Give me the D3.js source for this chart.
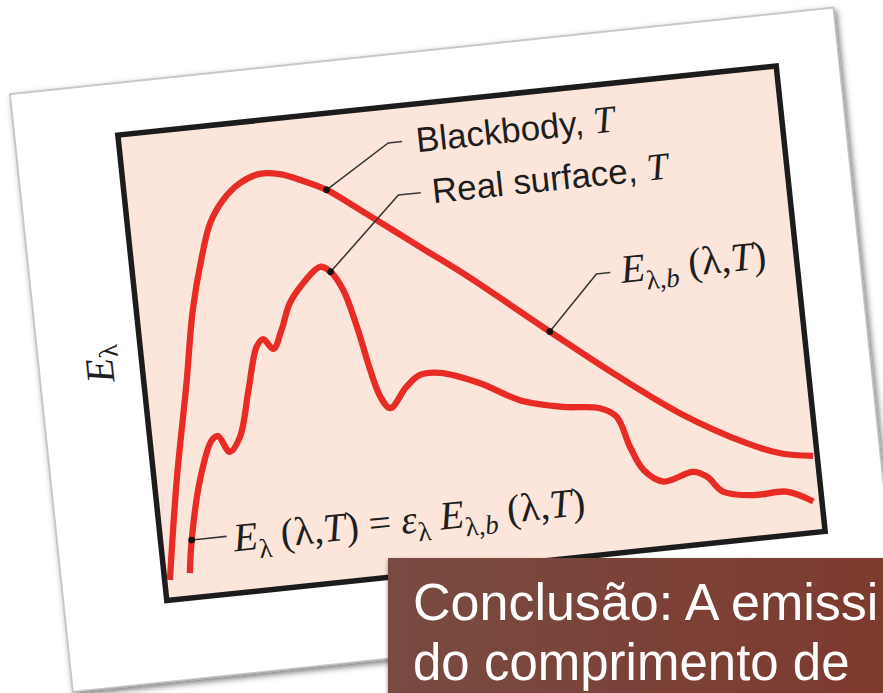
<!DOCTYPE html>
<html>
<head>
<meta charset="utf-8">
<script src="https://cdn.jsdelivr.net/npm/d3@7"></script>
<style>
  html, body { margin: 0; padding: 0; background: #ffffff; overflow: hidden; }
  svg { display: block; }
</style>
</head>
<body>
<svg id="chart" width="883" height="693"></svg>
<script>
// ---------------- data (normalised 0..100) ----------------
const blackbodyX = [0.8, 3.4, 6.4, 8.5, 10.7, 12.5, 14.8, 17.6, 20.7, 23.7, 26.7, 30.5, 35.2, 39.8, 43.6, 49.7, 61.8, 70.7, 80.1, 89.6, 94.5, 99.4];
const blackbodyY = [4.3, 25.4, 45.8, 61.2, 72.3, 79.3, 83.9, 87.1, 88.6, 88.1, 86.4, 83.7, 78.7, 73.7, 69.5, 62.9, 48.6, 38.3, 28.3, 20.5, 17.6, 16.3];

const realX = [3.9, 4.7, 6.9, 9.3, 10.3, 11.8, 13.6, 15.6, 17.5, 18.6, 20.0, 21.5, 23.2, 25.5, 28.3, 29.8, 31.4, 32.9, 34.2, 35.3, 36.6, 39.4, 41.6, 44.6, 50.5, 56.2, 62.6, 68.1, 70.5, 72.0, 73.7, 76.5, 81.1, 83.1, 85.3, 89.8, 94.8, 98.7];
const realY = [5.3, 12.3, 24.9, 33.1, 33.8, 30.2, 33.2, 42.9, 51.9, 53.4, 51.1, 54.9, 60.5, 64.4, 67.5, 66.2, 62.1, 53.9, 44.5, 38.6, 35.9, 40.1, 42.3, 42.3, 39.2, 34.7, 32.3, 31.2, 29.0, 22.4, 17.1, 14.2, 15.6, 14.3, 10.7, 9.3, 9.3, 6.6];

// annotation anchors (data units): marker on curve, leader corner, tick end, label position
const annoNames   = ["blackbody", "real", "ebody", "formula"];
const annoMarkerX = [30.5, 29.8, 61.8, 4.7];
const annoMarkerY = [83.7, 66.2, 48.6, 12.3];
const annoCornerX = [40.5, 41.2, 69.7, 4.7];
const annoCornerY = [92.3, 81.0, 59.8, 12.3];
const annoTickX   = [42.6, 44.6, 71.8, 10.0];
const annoLabelX  = [44.7, 46.3, 73.4, 11.0];
const annoLabelY  = [89.7, 78.5, 57.3, 8.9];

const yAxisLabel = "E";
const yAxisSub = "λ";
const banner1 = "Conclusão: A emissi";
const banner2 = "do comprimento de";

// ---------------- drawing ----------------
const svg = d3.select("#chart");
const defs = svg.append("defs");

const sh = defs.append("filter").attr("id", "cardShadow")
  .attr("x", "-10%").attr("y", "-10%").attr("width", "120%").attr("height", "120%");
sh.append("feDropShadow").attr("dx", 2).attr("dy", 3).attr("stdDeviation", 3)
  .attr("flood-color", "#000").attr("flood-opacity", 0.55);

const bsh = defs.append("filter").attr("id", "boxShadow")
  .attr("x", "-10%").attr("y", "-10%").attr("width", "120%").attr("height", "130%");
bsh.append("feDropShadow").attr("dx", 0).attr("dy", 2).attr("stdDeviation", 2)
  .attr("flood-color", "#000").attr("flood-opacity", 0.45);

const grad = defs.append("linearGradient").attr("id", "brown")
  .attr("x1", "0%").attr("x2", "100%").attr("y1", "0%").attr("y2", "0%");
grad.append("stop").attr("offset", "0%").attr("stop-color", "#784b42");
grad.append("stop").attr("offset", "100%").attr("stop-color", "#7d392d");

// rotated card
const card = svg.append("g").attr("transform", "translate(471.5,333.25) rotate(-6)");

card.append("rect")
  .attr("x", -434).attr("y", -286).attr("width", 828).attr("height", 601)
  .attr("fill", "#ffffff").attr("stroke", "#a9a9a9").attr("stroke-width", 1.2)
  .attr("filter", "url(#cardShadow)");

const W = 662, H = 468;
const x = d3.scaleLinear().domain([0, 100]).range([-W / 2, W / 2]);
const y = d3.scaleLinear().domain([0, 100]).range([H / 2, -H / 2]);

card.append("rect")
  .attr("x", x(0)).attr("y", y(100)).attr("width", x(100) - x(0)).attr("height", y(0) - y(100))
  .attr("fill", "#fce6db").attr("stroke", "#1c1c1c").attr("stroke-width", 5.5);

const line = d3.line().x(d => x(d[0])).y(d => y(d[1])).curve(d3.curveCatmullRom.alpha(0.5));

const red = "#e82b24";
card.append("path")
  .datum(d3.zip(blackbodyX, blackbodyY))
  .attr("d", line).attr("fill", "none").attr("stroke", red).attr("stroke-width", 6.3)
  .attr("stroke-linecap", "butt").attr("stroke-linejoin", "round");

card.append("path")
  .datum(d3.zip(realX, realY))
  .attr("d", line).attr("fill", "none").attr("stroke", red).attr("stroke-width", 6.3)
  .attr("stroke-linecap", "butt").attr("stroke-linejoin", "round");

// leaders
annoNames.forEach((n, i) => {
  const pts = [[annoMarkerX[i], annoMarkerY[i]], [annoCornerX[i], annoCornerY[i]], [annoTickX[i], annoCornerY[i]]];
  card.append("path")
    .attr("d", d3.line().x(d => x(d[0])).y(d => y(d[1]))(pts))
    .attr("fill", "none").attr("stroke", "#3a3a3a").attr("stroke-width", 1.6);
  card.append("circle").attr("cx", x(annoMarkerX[i])).attr("cy", y(annoMarkerY[i]))
    .attr("r", 3.3).attr("fill", "#111");
});

const serif = "'Liberation Serif', 'Times New Roman', 'DejaVu Serif', serif";
const sans = "'Liberation Sans', Arial, Helvetica, sans-serif";

function label(i) {
  return card.append("text").attr("x", x(annoLabelX[i])).attr("y", y(annoLabelY[i]))
    .attr("fill", "#1e1e1e").style("white-space", "pre");
}

// Blackbody, T
let t = label(0).attr("font-family", sans).attr("font-size", 35);
t.append("tspan").text("Blackbody, ");
t.append("tspan").attr("font-family", serif).attr("font-style", "italic").attr("font-size", 38).text("T");

// Real surface, T
t = label(1).attr("font-family", sans).attr("font-size", 35);
t.append("tspan").text("Real surface, ");
t.append("tspan").attr("font-family", serif).attr("font-style", "italic").attr("font-size", 38).text("T");

// E_{λ,b} (λ,T)
t = label(2).attr("font-family", serif).attr("font-size", 40);
t.append("tspan").attr("font-style", "italic").text("E");
t.append("tspan").attr("font-size", 27).attr("dy", 9).text("λ,");
t.append("tspan").attr("font-size", 27).attr("font-style", "italic").text("b");
t.append("tspan").attr("dy", -9).text(" (λ,");
t.append("tspan").attr("font-style", "italic").text("T");
t.append("tspan").text(")");

// E_λ (λ,T) = ε_λ E_{λ,b} (λ,T)
t = label(3).attr("font-family", serif).attr("font-size", 40);
t.append("tspan").attr("font-style", "italic").text("E");
t.append("tspan").attr("font-size", 27).attr("dy", 9).text("λ");
t.append("tspan").attr("dy", -9).text(" (λ,");
t.append("tspan").attr("font-style", "italic").text("T");
t.append("tspan").text(") = ");
t.append("tspan").attr("font-style", "italic").text("ε");
t.append("tspan").attr("font-size", 27).attr("dy", 9).text("λ");
t.append("tspan").attr("dy", -9).text(" ");
t.append("tspan").attr("font-style", "italic").text("E");
t.append("tspan").attr("font-size", 27).attr("dy", 9).text("λ,");
t.append("tspan").attr("font-size", 27).attr("font-style", "italic").text("b");
t.append("tspan").attr("dy", -9).text(" (λ,");
t.append("tspan").attr("font-style", "italic").text("T");
t.append("tspan").text(")");

// y axis label
const yl = card.append("text")
  .attr("transform", `translate(${x(0) - 42},${(y(0) + y(100)) / 2 - 8}) rotate(-90)`)
  .attr("text-anchor", "middle").attr("y", 13)
  .attr("font-family", serif).attr("font-size", 40).attr("fill", "#1e1e1e");
yl.append("tspan").attr("font-style", "italic").text(yAxisLabel);
yl.append("tspan").attr("font-size", 27).attr("dy", 6).text(yAxisSub);

// banner (not rotated)
svg.append("rect").attr("x", 388).attr("y", 558).attr("width", 510).attr("height", 150)
  .attr("fill", "url(#brown)").attr("filter", "url(#boxShadow)");
svg.append("text").attr("x", 413).attr("y", 620)
  .attr("font-family", sans).attr("font-size", 52).attr("fill", "#ffffff").text(banner1);
svg.append("text").attr("x", 413).attr("y", 680)
  .attr("font-family", sans).attr("font-size", 51).attr("fill", "#ffffff").text(banner2);
</script>
</body>
</html>
